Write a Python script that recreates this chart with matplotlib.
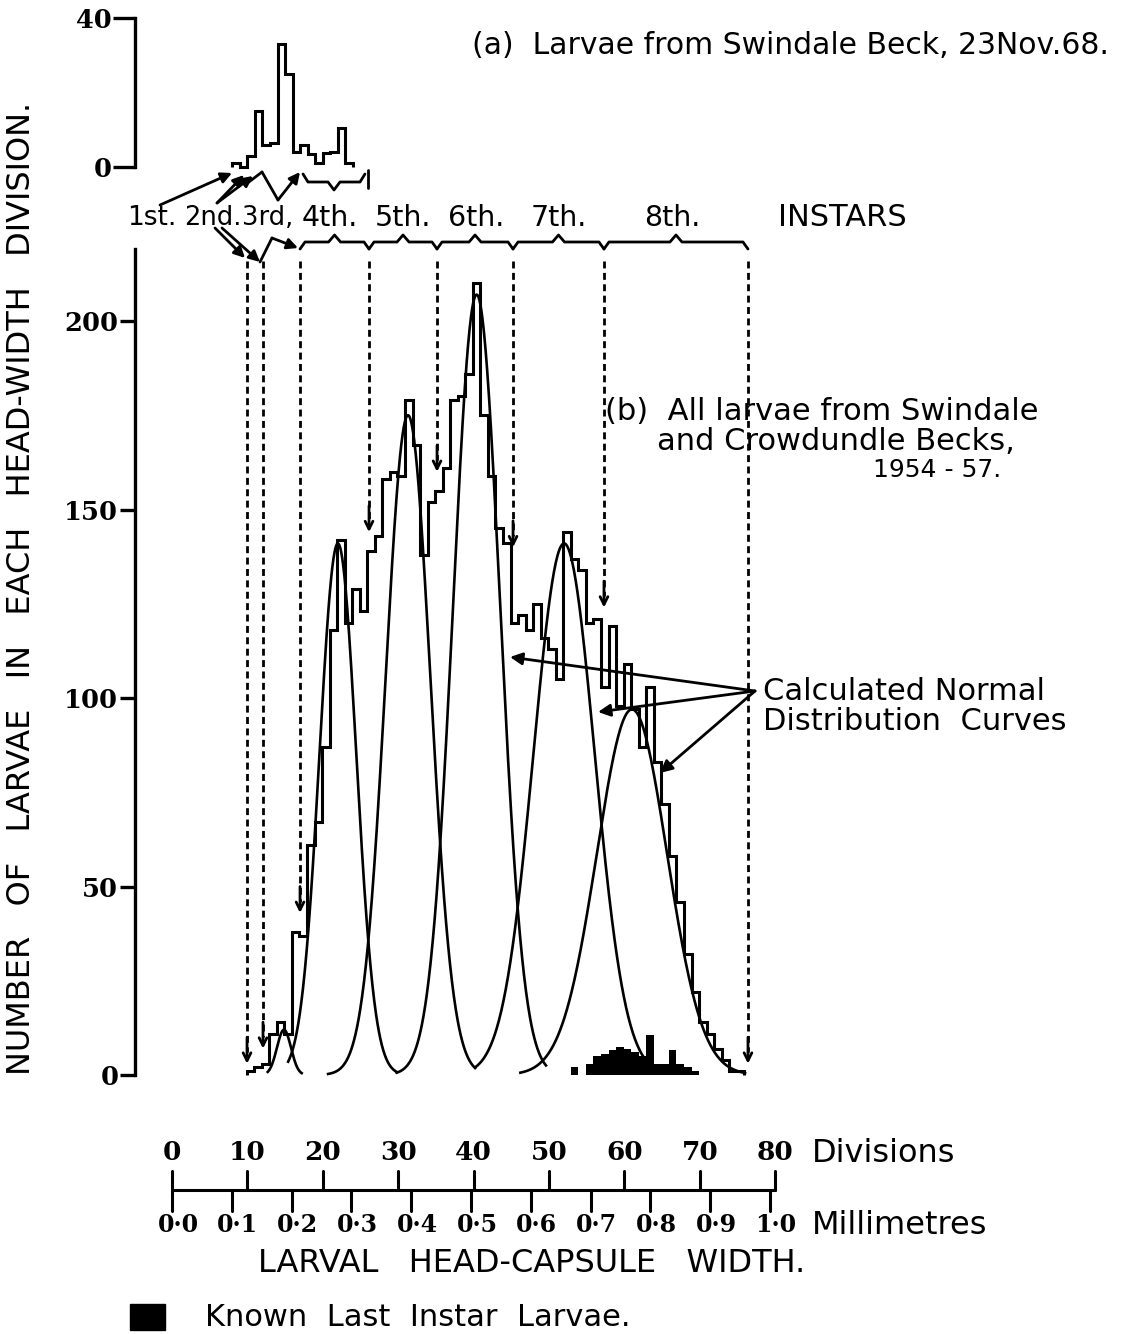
import numpy as np
import matplotlib
matplotlib.use("Agg")
import matplotlib.pyplot as plt

W, H = 1126, 1334
X0, PXD = 172.0, 7.54      # pixel of division 0, pixels per division
Y0, PXV = 1075.0, 3.77     # pixel of count 0 in (b), pixels per larva
IY0, IPXV = 167.0, 3.725   # same for the small (a) histogram

SANS = 'DejaVu Sans'
SERIF = 'DejaVu Serif'

# (b) all larvae: number in each head-width division, first division = 10
b_first = 10
b_counts = [1, 2, 3, 11, 14, 11, 38, 37, 61, 67,
            87, 118, 142, 120, 129, 123, 139, 143, 158, 160,
            159, 179, 167, 138, 152, 155, 161, 179, 180, 186,
            210, 175, 159, 145, 141, 120, 122, 118, 125, 116,
            113, 105, 144, 137, 134, 120, 121, 103, 119, 98,
            109, 97, 87, 103, 83, 72, 58, 46, 32, 22,
            14, 11, 7, 4, 1, 1]

# known last instar larvae (black), first division = 53
last_first = 53
last_counts = [2, 0, 3, 5, 5.5, 6.6, 7.5, 7, 6, 5, 10.6, 3, 3, 6.6, 3, 2, 1]

# (a) Swindale Beck 23 Nov 68, first division = 8
a_first = 8
a_counts = [1, 0, 3, 15, 6, 6.5, 33, 25, 4, 6, 3.5, 1, 3.7, 4, 10.5, 1]

# calculated normal curves: 3rd .. 8th instar
curve_mean = [14.85, 22.0, 31.3, 40.4, 52.0, 61.0]
curve_sd = [0.93, 2.43, 2.95, 3.1, 4.05, 4.65]
curve_peak = [12, 141, 175, 207, 141, 97]
curve_lo = [12.7, 15.4, 20.7, 29.8, 40.2, 46.2]
curve_hi = [17.2, 29.8, 40.2, 49.6, 62.7, 76.0]

# instar boundaries (divisions) and where the dashed arrows stop (larvae)
bound_div = [9.95, 12.07, 16.98, 26.13, 35.15, 45.23, 57.29, 76.39]
bound_tip = [3, 7, 43, 144, 160, 140, 124, 3]

instar_labels = ['1st.', '2nd.', '3rd,', '4th.', '5th.', '6th.', '7th.', '8th.']
b_ticks = [0, 50, 100, 150, 200]
a_ticks = [0, 40]
div_ticks = [0, 10, 20, 30, 40, 50, 60, 70, 80]
mm_ticks = [0.0, 0.1, 0.2, 0.3, 0.4, 0.5, 0.6, 0.7, 0.8, 0.9, 1.0]
DIV_PER_MM = 79.3


def px(d):
    return X0 + PXD * d


fig = plt.figure(figsize=(W / 100, H / 100), dpi=100)


def add_ax(left, right, top, bottom):
    return fig.add_axes([left / W, 1 - bottom / H, (right - left) / W, (bottom - top) / H])


def style_left(a, ticks, top, ticklen):
    for s in ['top', 'right', 'bottom']:
        a.spines[s].set_visible(False)
    a.spines['left'].set_linewidth(2.4)
    a.spines['left'].set_bounds(0, top)
    a.set_xticks([])
    a.set_yticks(ticks)
    a.set_yticklabels([str(t) for t in ticks], fontfamily=SERIF, fontweight='bold', fontsize=18.5)
    a.tick_params(axis='y', direction='out', length=ticklen, width=2.4, pad=1)
    a.patch.set_alpha(0)


# ---- panel (b) ----
ax = add_ax(135, 790, 248, 1085)
ax.set_xlim((135 - X0) / PXD, (790 - X0) / PXD)
ax.set_ylim((Y0 - 1085) / PXV, (Y0 - 248) / PXV)
style_left(ax, b_ticks, 219, 11)

edges = np.arange(b_first, b_first + len(b_counts) + 1) - 0.1
ax.stairs(b_counts, edges, baseline=0, color='black', lw=2.2)

ledges = np.arange(last_first, last_first + len(last_counts) + 1) - 0.1
ax.stairs(last_counts, ledges, baseline=0, fill=True, color='black')

for m, s, a, lo, hi in zip(curve_mean, curve_sd, curve_peak, curve_lo, curve_hi):
    xs = np.linspace(lo, hi, 300)
    ax.plot(xs, a * np.exp(-0.5 * ((xs - m) / s) ** 2), color='black', lw=1.9)

top_v = 216
for d, tip in zip(bound_div, bound_tip):
    ax.plot([d, d], [top_v, tip + 3], color='black', lw=2.0, linestyle=(0, (2.5, 1.6)))
    ax.annotate('', xy=(d, tip), xytext=(d, tip + 7),
                arrowprops=dict(arrowstyle='->', color='black', lw=2.0,
                                mutation_scale=14, shrinkA=0, shrinkB=0))

# ---- panel (a) ----
ia = add_ax(135, 400, 10, 195)
ia.set_xlim((135 - X0) / PXD, (400 - X0) / PXD)
ia.set_ylim((IY0 - 195) / IPXV, (IY0 - 10) / IPXV)
style_left(ia, a_ticks, 40, 16)
aedges = np.arange(a_first, a_first + len(a_counts) + 1)
ia.stairs(a_counts, aedges, baseline=0, color='black', lw=2.2)

# ---- overlay for lettering, braces and the scale ----
ov = fig.add_axes([0, 0, 1, 1])
ov.set_xlim(0, W)
ov.set_ylim(H, 0)
ov.axis('off')


def txt(x, y, s, size=20, ha='left', family=SANS, weight='normal', **kw):
    ov.text(x, y, s, fontsize=size, ha=ha, va='center', family=family,
            fontweight=weight, color='black', **kw)


def arrow(x0, y0, x1, y1, style='-|>', ms=16):
    ov.annotate('', xy=(x1, y1), xytext=(x0, y0),
                arrowprops=dict(arrowstyle=style, color='black', lw=2.0,
                                mutation_scale=ms, shrinkA=0, shrinkB=0))


def line(xs, ys, lw=2.0):
    ov.plot(xs, ys, color='black', lw=lw, solid_capstyle='round')


def brace(x0, x1, y, e=1, h=7):
    mid = (x0 + x1) / 2
    line([x0, x0 + 5, mid - 6, mid, mid + 6, x1 - 5, x1],
         [y + e * h, y, y, y - e * h, y, y, y + e * h])


txt(22, 588, 'NUMBER   OF   LARVAE   IN   EACH   HEAD-WIDTH   DIVISION.', size=23, ha='center', rotation=90)
txt(472, 45, '(a)  Larvae from Swindale Beck, 23Nov.68.', size=21.5)
txt(605, 412, '(b)  All larvae from Swindale', size=22)
txt(657, 441, 'and Crowdundle Becks,', size=22)
txt(873, 470, '1954 - 57.', size=18)
txt(763, 691, 'Calculated Normal', size=22)
txt(763, 721, 'Distribution  Curves', size=22)

label_x = [152, 241, 242, 330, 403, 476, 559, 672]
label_ha = ['center', 'right', 'left', 'center', 'center', 'center', 'center', 'center']
label_size = [19, 18.5, 18.5, 20.5, 20.5, 20.5, 20.5, 20.5]
for lx, lab, h, fs in zip(label_x, instar_labels, label_ha, label_size):
    txt(lx, 218, lab, size=fs, ha=h)
txt(778, 218, 'INSTARS', size=22)

# braces over the instar ranges in (b)
bpx = [px(d) for d in bound_div]
for i in range(2, len(bpx) - 1):
    brace(bpx[i], bpx[i + 1], 242)
# brace under the 4th instar part of (a)
brace(303, 365, 182, e=-1, h=8)
line([368, 368], [170, 188], lw=2.0)

# pointers from the instar labels
arrow(160, 205, 232, 173)
arrow(217, 203, 244, 175)
arrow(217, 203, 253, 176)
line([245, 262], [185, 172])
line([262, 278], [172, 200])
arrow(278, 200, 300, 172)
arrow(215, 228, 245, 258)
arrow(222, 228, 260, 262)
line([260, 272], [262, 238])
arrow(272, 238, 298, 248)

# calculated normal curve pointers
for hx, hy in [(510, 657), (598, 712), (660, 773)]:
    arrow(755, 691, hx, hy, ms=18)

# head-width scale
line([px(0), px(80)], [1190, 1190], lw=2.2)
for d in div_ticks:
    line([px(d), px(d)], [1171, 1190], lw=2.2)
    txt(px(d), 1153, str(d), size=19, ha='center', family=SERIF, weight='bold')
for m in mm_ticks:
    x = px(m * DIV_PER_MM)
    line([x, x], [1190, 1211], lw=2.2)
    txt(x + 6, 1225, f'{m:.1f}'.replace('.', '\u00b7'), size=17, ha='center', family=SERIF, weight='bold')
txt(812, 1153, 'Divisions', size=23)
txt(812, 1225, 'Millimetres', size=23)
txt(532, 1263, 'LARVAL   HEAD-CAPSULE   WIDTH.', size=23, ha='center')

ov.add_patch(plt.Rectangle((130, 1304), 35, 26, color='black'))
txt(205, 1318, 'Known  Last  Instar  Larvae.', size=22)

fig.savefig('out.png', dpi=100, facecolor='white')
